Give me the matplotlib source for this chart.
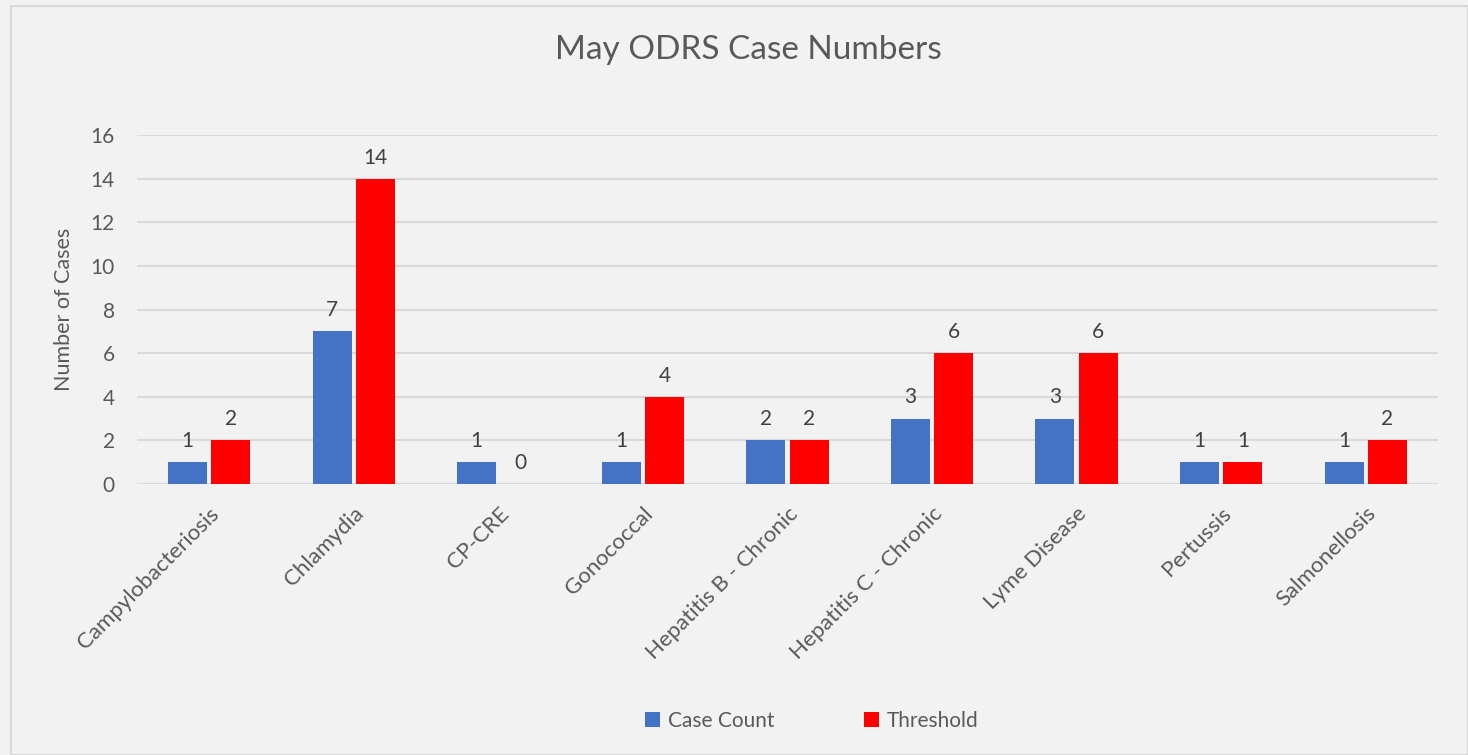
import matplotlib
matplotlib.use('Agg')
import matplotlib.pyplot as plt
import numpy as np
from matplotlib.patches import Rectangle

plt.rcParams['font.family'] = ['Lato', 'DejaVu Sans']

# data
diseases = ['Campylobacteriosis', 'Chlamydia', 'CP-CRE', 'Gonococcal',
            'Hepatitis B - Chronic', 'Hepatitis C - Chronic', 'Lyme Disease',
            'Pertussis', 'Salmonellosis']
case_count = [1, 7, 1, 1, 2, 3, 3, 1, 1]
threshold = [2, 14, 0, 4, 2, 6, 6, 1, 2]
yticks = [0, 2, 4, 6, 8, 10, 12, 14, 16]

bg = '#F2F2F2'
txt = '#595959'

fig = plt.figure(figsize=(14.68, 7.55), dpi=100, facecolor=bg)
# chart border
fig.patches.append(Rectangle((11 / 1468, 0), 1 - 11 / 1468, 1 - 6 / 755,
                             transform=fig.transFigure, fill=False,
                             edgecolor='#D9D9D9', lw=1.5))

ax = fig.add_axes([137 / 1468, 271 / 755, 1301 / 1468, 349 / 755])
ax.set_facecolor(bg)

x = np.arange(len(diseases))
w = 0.27
gap = 0.015
b1 = ax.bar(x - w / 2 - gap, case_count, w, color='#4472C4', label='Case Count', zorder=3)
b2 = ax.bar(x + w / 2 + gap, threshold, w, color='#FF0000', label='Threshold', zorder=3)

for bars in (b1, b2):
    for r in bars:
        h = r.get_height()
        ax.annotate(str(int(h)), (r.get_x() + r.get_width() / 2, h),
                    xytext=(0, 8), textcoords='offset points',
                    ha='center', va='bottom', fontsize=15, color='#404040')

ax.set_xlim(-0.5, len(diseases) - 0.5)
ax.set_ylim(0, 16)
ax.set_yticks(yticks)
ax.yaxis.grid(True, color='#D9D9D9', lw=1.5, zorder=0)
ax.set_axisbelow(True)
for s in ax.spines.values():
    s.set_visible(False)
ax.tick_params(length=0, labelsize=15, colors=txt)
ax.tick_params(axis='y', pad=16)
ax.set_xticks(x)
ax.set_xticklabels(diseases, rotation=45, ha='right', rotation_mode='anchor')
ax.tick_params(axis='x', pad=14, labelsize=16)
ax.set_ylabel('Number of Cases', fontsize=15.5, color=txt, labelpad=12)

fig.text(748 / 1468, 1 - 50 / 755, 'May ODRS Case Numbers', ha='center', va='center',
         fontsize=24, color=txt)

fig.legend(handles=[b1, b2], loc='center', bbox_to_anchor=(812 / 1468, 1 - 721 / 755),
           ncol=2, frameon=False, fontsize=15, labelcolor=txt, handlelength=0.7,
           handleheight=0.7, handletextpad=0.4, columnspacing=4.3)

fig.savefig('out.png', dpi=100, facecolor=bg)
